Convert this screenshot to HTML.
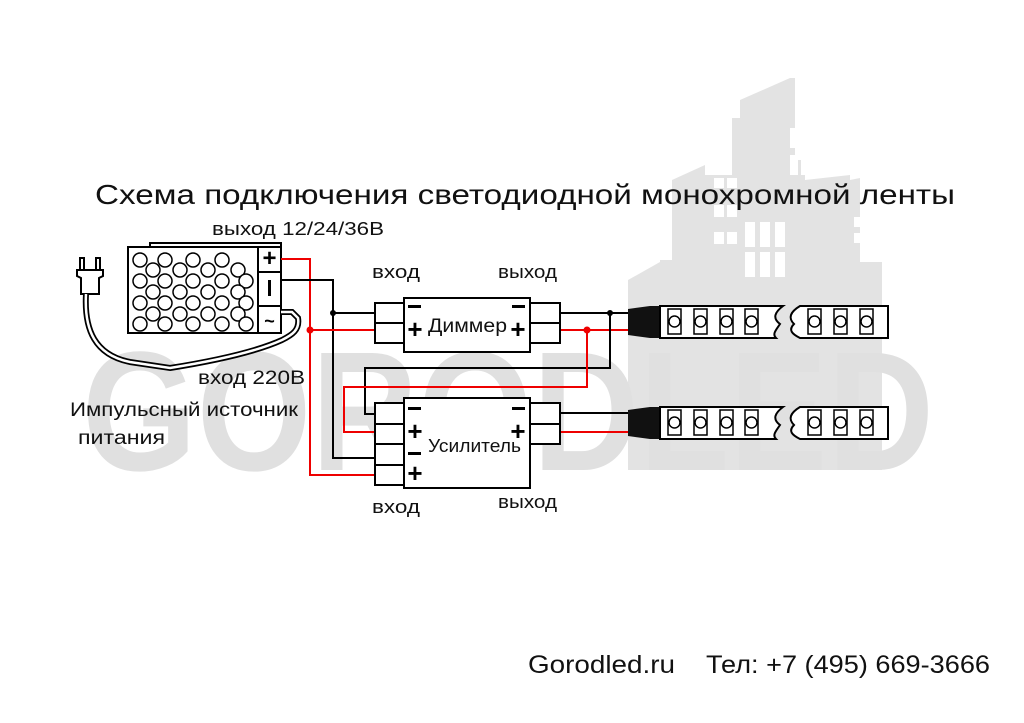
<!DOCTYPE html>
<html><head><meta charset="utf-8"><style>html,body{margin:0;padding:0;background:#fff}svg{display:block}</style></head>
<body>
<svg width="1024" height="723" viewBox="0 0 1024 723" xmlns="http://www.w3.org/2000/svg" font-family="Liberation Sans, DejaVu Sans, sans-serif">
<rect width="1024" height="723" fill="#fff"/>
<!-- watermark buildings -->
<g fill="#e3e3e3">
<polygon points="740,100 790,78 795,78 795,470 740,470"/>
<polygon points="732,118 742,118 742,470 732,470"/>
<polygon points="672,180 705,165 705,470 672,470"/>
<rect x="705" y="175" width="35" height="295"/>
<polygon points="795,160 805,160 805,470 795,470"/>
<polygon points="805,180 850,175 850,470 805,470"/>
<polygon points="850,180 860,178 860,470 850,470"/>
<polygon points="628,280 660,262 660,470 628,470"/>
<rect x="660" y="260" width="12" height="210"/>
<rect x="860" y="262" width="22" height="208"/>
</g>
<g fill="#fff">
<rect x="795" y="100" width="8" height="18"/><rect x="790" y="128" width="8" height="20"/><rect x="801" y="128" width="8" height="20"/>
<rect x="790" y="155" width="8" height="20"/><rect x="801" y="155" width="8" height="20"/>
<rect x="714" y="178" width="10" height="10"/><rect x="727" y="178" width="10" height="10"/>
<rect x="714" y="205" width="10" height="12"/><rect x="727" y="205" width="10" height="12"/>
<rect x="714" y="232" width="10" height="12"/><rect x="727" y="232" width="10" height="12"/>
<rect x="745" y="222" width="10" height="25"/><rect x="760" y="222" width="10" height="25"/><rect x="775" y="222" width="10" height="25"/>
<rect x="745" y="252" width="10" height="25"/><rect x="760" y="252" width="10" height="25"/><rect x="775" y="252" width="10" height="25"/>
<rect x="854" y="217" width="7" height="10"/><rect x="864" y="217" width="7" height="10"/>
<rect x="854" y="233" width="7" height="10"/><rect x="864" y="233" width="7" height="10"/>
</g>
<!-- watermark text -->
<text x="82" y="470" font-size="170" font-weight="bold" fill="#e0e0e0" textLength="852" lengthAdjust="spacingAndGlyphs">GORODLED</text>

<!-- title -->
<text x="95" y="204" font-size="28" fill="#111" textLength="860" lengthAdjust="spacingAndGlyphs">Схема подключения светодиодной  монохромной ленты</text>
<text x="212" y="235" font-size="18" fill="#111" textLength="172" lengthAdjust="spacingAndGlyphs">выход 12/24/36В</text>
<text x="372" y="278" font-size="18" fill="#111" textLength="48" lengthAdjust="spacingAndGlyphs">вход</text>
<text x="498" y="278" font-size="18" fill="#111" textLength="59" lengthAdjust="spacingAndGlyphs">выход</text>
<text x="198" y="384" font-size="19" fill="#111" textLength="107" lengthAdjust="spacingAndGlyphs">вход 220В</text>
<text x="70" y="416" font-size="19" fill="#111" textLength="228" lengthAdjust="spacingAndGlyphs">Импульсный источник</text>
<text x="78" y="444" font-size="19" fill="#111" textLength="87" lengthAdjust="spacingAndGlyphs">питания</text>
<text x="372" y="513" font-size="18" fill="#111" textLength="48" lengthAdjust="spacingAndGlyphs">вход</text>
<text x="498" y="508" font-size="18" fill="#111" textLength="59" lengthAdjust="spacingAndGlyphs">выход</text>
<text x="528" y="673" font-size="25" fill="#111" textLength="147" lengthAdjust="spacingAndGlyphs">Gorodled.ru</text>
<text x="706" y="673" font-size="25" fill="#111" textLength="284" lengthAdjust="spacingAndGlyphs">Тел: +7 (495) 669-3666</text>

<!-- power supply -->
<g stroke="#000" stroke-width="2" fill="#fff">
<polyline points="150,247 150,243 281,243 281,247" fill="none"/>
<rect x="128" y="247" width="130" height="86"/>
<rect x="258" y="247" width="23" height="25"/>
<rect x="258" y="272" width="23" height="34"/>
<rect x="258" y="306" width="23" height="27"/>
</g>
<g stroke="#000" stroke-width="1.5" fill="#fff">
<circle cx="140" cy="260" r="7"/><circle cx="165" cy="260" r="7"/><circle cx="193" cy="260" r="7"/><circle cx="222" cy="260" r="7"/>
<circle cx="153" cy="270" r="7"/><circle cx="180" cy="270" r="7"/><circle cx="208" cy="270" r="7"/><circle cx="238" cy="270" r="7"/>
<circle cx="140" cy="281" r="7"/><circle cx="165" cy="281" r="7"/><circle cx="193" cy="281" r="7"/><circle cx="222" cy="281" r="7"/><circle cx="246" cy="281" r="7"/>
<circle cx="153" cy="292" r="7"/><circle cx="180" cy="292" r="7"/><circle cx="208" cy="292" r="7"/><circle cx="238" cy="292" r="7"/>
<circle cx="140" cy="303" r="7"/><circle cx="165" cy="303" r="7"/><circle cx="193" cy="303" r="7"/><circle cx="222" cy="303" r="7"/><circle cx="246" cy="303" r="7"/>
<circle cx="153" cy="314" r="7"/><circle cx="180" cy="314" r="7"/><circle cx="208" cy="314" r="7"/><circle cx="238" cy="314" r="7"/>
<circle cx="140" cy="324" r="7"/><circle cx="165" cy="324" r="7"/><circle cx="193" cy="324" r="7"/><circle cx="222" cy="324" r="7"/><circle cx="246" cy="324" r="7"/>
</g>
<text x="269.5" y="266" font-size="24" font-weight="bold" text-anchor="middle" fill="#000">+</text>
<rect x="268" y="280" width="3" height="16" fill="#000"/>
<text x="269.5" y="327" font-size="18" font-weight="bold" text-anchor="middle" fill="#000">~</text>

<!-- plug and cable -->
<g stroke="#000" stroke-width="2" fill="#fff">
<rect x="80" y="258" width="4" height="12"/><rect x="96" y="258" width="4" height="12"/>
<path d="M77,270 H103 V276 L99,278 V294 H81 V278 L77,276 Z"/>
<path d="M86,294 C84,330 95,355 130,362 L170,368 C220,360 260,350 282,340 C292,335 300,330 298,318 L292,312 L281,312" fill="none" stroke-width="6"/>
<path d="M86,294 C84,330 95,355 130,362 L170,368 C220,360 260,350 282,340 C292,335 300,330 298,318 L292,312 L281,312" fill="none" stroke="#fff" stroke-width="2.5"/>
</g>

<!-- wires -->
<g fill="none" stroke-width="2">
<polyline stroke="#e00" points="281,259 310,259 310,475 375,475"/>
<polyline stroke="#000" points="281,280 333,280 333,458 375,458"/>
<line stroke="#000" x1="333" y1="313" x2="375" y2="313"/>
<line stroke="#e00" x1="310" y1="330" x2="375" y2="330"/>
<line stroke="#000" x1="560" y1="313" x2="630" y2="313"/>
<line stroke="#e00" x1="560" y1="330" x2="630" y2="330"/>
<polyline stroke="#000" points="610,313 610,368 365,368 365,414 375,414"/>
<polyline stroke="#e00" points="587,330 587,387 344,387 344,432 375,432"/>
<line stroke="#000" x1="560" y1="413" x2="630" y2="413"/>
<line stroke="#e00" x1="560" y1="432" x2="630" y2="432"/>
</g>
<circle cx="333" cy="313" r="3" fill="#000"/>
<circle cx="310" cy="330" r="3.5" fill="#e00"/>
<circle cx="610" cy="313" r="3" fill="#000"/>
<circle cx="587" cy="330" r="3.5" fill="#e00"/>

<!-- dimmer -->
<g stroke="#000" stroke-width="2" fill="#fff">
<rect x="375" y="303" width="30" height="20"/><rect x="375" y="323" width="30" height="20"/>
<rect x="404" y="298" width="126" height="54"/>
<rect x="530" y="303" width="30" height="20"/><rect x="530" y="323" width="30" height="20"/>
</g>
<rect x="408" y="305" width="13" height="3" fill="#000"/><rect x="512" y="305" width="13" height="3" fill="#000"/>
<text x="415" y="338" font-size="26" font-weight="bold" text-anchor="middle" fill="#000">+</text>
<text x="518" y="338" font-size="26" font-weight="bold" text-anchor="middle" fill="#000">+</text>
<text x="428" y="332" font-size="19" fill="#111" textLength="79" lengthAdjust="spacingAndGlyphs">Диммер</text>

<!-- amplifier -->
<g stroke="#000" stroke-width="2" fill="#fff">
<rect x="375" y="403" width="30" height="21"/><rect x="375" y="424" width="30" height="20"/>
<rect x="375" y="444" width="30" height="21"/><rect x="375" y="465" width="30" height="20"/>
<rect x="404" y="398" width="126" height="90"/>
<rect x="530" y="403" width="30" height="21"/><rect x="530" y="424" width="30" height="20"/>
</g>
<rect x="408" y="407" width="13" height="3" fill="#000"/><rect x="512" y="407" width="13" height="3" fill="#000"/>
<rect x="408" y="452" width="13" height="3" fill="#000"/>
<text x="415" y="440" font-size="26" font-weight="bold" text-anchor="middle" fill="#000">+</text>
<text x="518" y="440" font-size="26" font-weight="bold" text-anchor="middle" fill="#000">+</text>
<text x="415" y="482" font-size="26" font-weight="bold" text-anchor="middle" fill="#000">+</text>
<text x="428" y="452" font-size="18" fill="#111" textLength="93" lengthAdjust="spacingAndGlyphs">Усилитель</text>

<!-- strips -->
<g id="s1">
<path d="M628,309 L650,306 L660,306 L660,338 L650,338 L628,335 Z" fill="#111"/>
<path d="M660,306 H783 C775,312 772,318 780,324 C776,330 772,334 776,338 H660 Z" fill="#fff" stroke="#000" stroke-width="2"/>
<path d="M800,306 H888 V338 H800 C792,334 788,330 794,324 C788,318 790,312 800,306 Z" fill="#fff" stroke="#000" stroke-width="2"/>
<g fill="none" stroke="#000" stroke-width="1.5">
<rect x="668" y="309" width="13" height="25"/><circle cx="674.5" cy="321.5" r="5.5"/>
<rect x="694" y="309" width="13" height="25"/><circle cx="700.5" cy="321.5" r="5.5"/>
<rect x="720" y="309" width="13" height="25"/><circle cx="726.5" cy="321.5" r="5.5"/>
<rect x="745" y="309" width="13" height="25"/><circle cx="751.5" cy="321.5" r="5.5"/>
<rect x="808" y="309" width="13" height="25"/><circle cx="814.5" cy="321.5" r="5.5"/>
<rect x="834" y="309" width="13" height="25"/><circle cx="840.5" cy="321.5" r="5.5"/>
<rect x="860" y="309" width="13" height="25"/><circle cx="866.5" cy="321.5" r="5.5"/>
</g>
</g>
<use href="#s1" transform="translate(0,101)"/>
</svg>
</body></html>
